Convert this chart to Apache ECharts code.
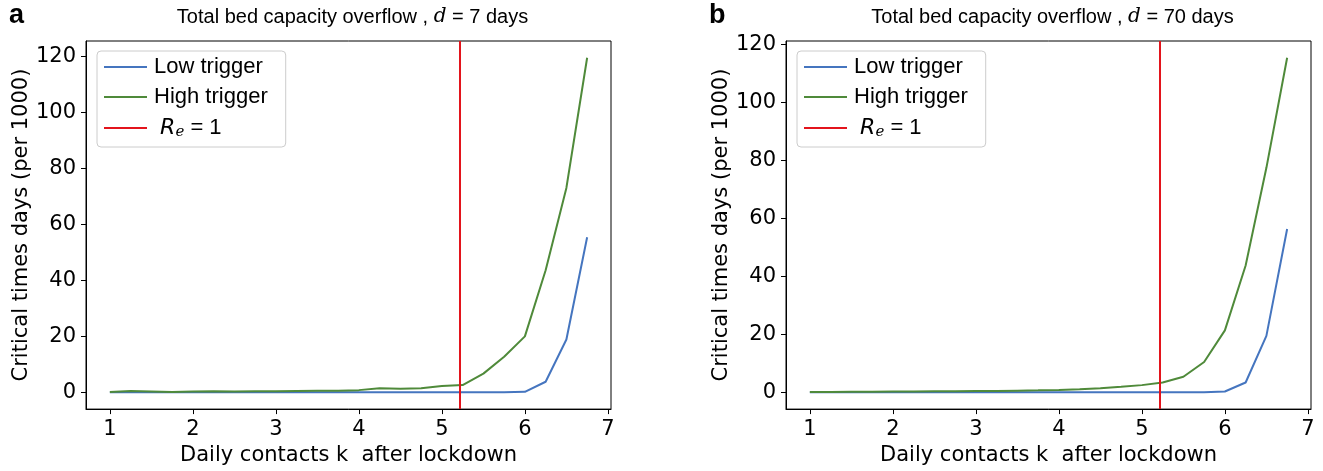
<!DOCTYPE html>
<html>
<head>
<meta charset="utf-8">
<script src="https://cdn.jsdelivr.net/npm/echarts@6/dist/echarts.min.js"></script>
<style>html,body{margin:0;padding:0;background:#fff;}#c{width:1323px;height:471px;}</style>
</head>
<body>
<div id="c"></div>
<script>
// Daily contacts k after lockdown
const kValues = [1,1.25,1.5,1.75,2,2.25,2.5,2.75,3,3.25,3.5,3.75,4,4.25,4.5,4.75,5,5.25,5.5,5.75,6,6.25,6.5,6.75];
// Panel a (d = 7 days)
const lowA  = [0,0,0,0,0,0,0,0,0,0,0,0,0,0,0,0,0,0,0,0,0.2,3.8,18.9,55.4];
const highA = [0.1,0.5,0.3,0.1,0.3,0.4,0.3,0.4,0.4,0.5,0.55,0.6,0.8,1.5,1.3,1.5,2.3,2.6,6.7,12.7,20.0,43.6,73.0,119.5];
// Panel b (d = 70 days)
const lowB  = [0,0,0,0,0,0,0,0,0,0,0,0,0,0,0,0,0,0,0,0,0.3,3.4,19.5,56.4];
const highB = [0.1,0.15,0.2,0.25,0.3,0.3,0.35,0.4,0.45,0.5,0.6,0.7,0.85,1.1,1.4,1.9,2.5,3.4,5.4,10.5,21.4,43.8,77.5,115.5];
// R_e = 1 position
const reOne = 5.22;
// ticks
const xTicks = [1,2,3,4,5,6,7];
const yTicks = [0,20,40,60,80,100,120];
const panelTitles = [['Total bed capacity overflow , ', 'd', ' = 7 days'], ['Total bed capacity overflow , ', 'd', ' = 70 days']];
const panelLetters = ['a','b'];
const seriesNames = ['Low trigger','High trigger','R_e = 1'];

const BLUE = '#4575bf', GREEN = '#4f8a3a', RED = '#e3141c';
const tickFont = {fontFamily:'DejaVu Sans', fontSize:21, color:'#000'};

function pairs(ys){ return kValues.map((k,i)=>[k, ys[i]]); }
function yRange(hi){ const mx=Math.max.apply(null,hi); const m=mx*0.05; return [-m, mx+m]; }

const grids = [
  {left:86, top:41, width:525, height:369},
  {left:786, top:41, width:525, height:369}
];
const data = [[lowA, highA],[lowB, highB]];
const span = kValues[kValues.length-1]-kValues[0];
const xMin = kValues[0] - 0.05*span;
const xMax = kValues[kValues.length-1] + 0.05*span;

const option = {
  animation:false,
  backgroundColor:'#fff',
  title: [],
  legend: [],
  grid: grids.map(g=>Object.assign({show:true, borderColor:'#000', borderWidth:1, backgroundColor:'transparent'}, g)),
  xAxis: [], yAxis: [], series: []
};

for (let p=0;p<2;p++){
  const yr = yRange(data[p][1]);
  option.xAxis.push({
    type:'value', gridIndex:p, min:xMin, max:xMax,
    axisLine:{show:true, onZero:false, lineStyle:{color:'#000', width:1}},
    axisTick:{show:true, length:5, lineStyle:{color:'#000'}, customValues:xTicks},
    axisLabel:Object.assign({margin:10, customValues:xTicks}, tickFont),
    splitLine:{show:false},
    name:'Daily contacts k  after lockdown', nameLocation:'middle', nameGap:33,
    nameTextStyle:{fontFamily:'DejaVu Sans', fontSize:21, color:'#000'}
  });
  option.yAxis.push({
    type:'value', gridIndex:p, min:yr[0], max:yr[1],
    axisLine:{show:true, onZero:false, lineStyle:{color:'#000', width:1}},
    axisTick:{show:true, length:5, lineStyle:{color:'#000'}, customValues:yTicks},
    axisLabel:Object.assign({margin:10, customValues:yTicks}, tickFont),
    splitLine:{show:false},
    name:'Critical times days (per 1000)', nameLocation:'middle', nameGap:49,
    nameTextStyle:{fontFamily:'DejaVu Sans', fontSize:21, color:'#000'}
  });
  option.series.push({
    name:seriesNames[0], type:'line', xAxisIndex:p, yAxisIndex:p, data:pairs(data[p][0]),
    symbol:'none', lineStyle:{color:BLUE, width:2}, itemStyle:{color:BLUE}, z:3
  });
  option.series.push({
    name:seriesNames[1], type:'line', xAxisIndex:p, yAxisIndex:p, data:pairs(data[p][1]),
    symbol:'none', lineStyle:{color:GREEN, width:2}, itemStyle:{color:GREEN}, z:3
  });
  option.series.push({
    name:seriesNames[2], type:'line', xAxisIndex:p, yAxisIndex:p, data:[],
    symbol:'none', lineStyle:{color:RED, width:2}, itemStyle:{color:RED}, z:4,
    markLine:{silent:true, symbol:['none','none'], label:{show:false},
      lineStyle:{color:RED, width:2, type:'solid'}, data:[{xAxis:reOne}]}
  });
  const g = grids[p];
  const t = panelTitles[p];
  option.title.push({
    text:'{n|'+t[0]+'}{d|'+t[1]+'}{n|'+t[2]+'}',
    left:g.left + g.width/2 + 4, top:7, textAlign:'center', padding:0,
    textStyle:{fontWeight:'normal', fontFamily:'Liberation Sans', fontSize:20, color:'#000', rich:{
      n:{fontFamily:'Liberation Sans', fontWeight:'normal', fontSize:20, color:'#000'},
      d:{fontFamily:'DejaVu Serif', fontStyle:'italic', fontWeight:'normal', fontSize:20, color:'#000'}
    }}
  });
  option.title.push({
    text:panelLetters[p], left:[9,709][p], top:2, padding:0,
    textStyle:{fontFamily:'Liberation Sans', fontWeight:'bold', fontSize:27, color:'#000'}
  });
  option.legend.push({
    data:seriesNames.map(n=>({name:n, icon:'rect'})), orient:'vertical', left:g.left+11, top:51,
    padding:[5,18,7,7], itemGap:8, itemWidth:43, itemHeight:2,
    backgroundColor:'rgba(255,255,255,0.8)', borderColor:'#cccccc', borderWidth:1, borderRadius:4,
    textStyle:{fontFamily:'Liberation Sans', fontSize:22, color:'#000', lineHeight:22, padding:[0,0,0,2],
      rich:{
        r:{fontFamily:'DejaVu Sans', fontStyle:'italic', fontSize:22, color:'#000', lineHeight:22},
        s:{fontFamily:'DejaVu Serif', fontStyle:'italic', fontSize:15, color:'#000', lineHeight:22, padding:[9,0,0,0]},
        q:{fontFamily:'Liberation Sans', fontSize:22, color:'#000', lineHeight:22}
      }},
    formatter:function(name){
      if (name === 'R_e = 1') return ' {r|R}{s|e}{q| = 1}';
      return name;
    }
  });
}

const chart = echarts.init(document.getElementById('c'), null, {renderer:'canvas'});
chart.setOption(option);
</script>
</body>
</html>
